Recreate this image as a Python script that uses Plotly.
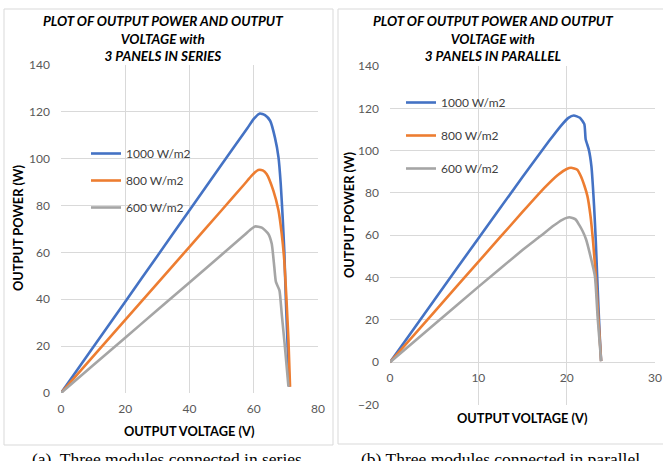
import plotly.graph_objects as go

W, H = 663, 461

# ---------------- data ----------------
series_names = ["1000 W/m2", "800 W/m2", "600 W/m2"]
colors = ["#4472C4", "#ED7D31", "#A5A5A5"]

# (a) three panels in series
ser_v_1000 = [0, 10, 20, 30, 40, 50, 58, 60, 61.9, 63.5, 65.1, 66.6, 67.7, 68.4, 69.0, 69.5, 70.0, 70.6, 71.1]
ser_p_1000 = [0, 19.5, 39, 58.5, 78, 97.5, 113, 117, 119.3, 118.6, 116.2, 109, 100.6, 89.2, 75, 60.9, 39.6, 18.3, 2.7]
ser_v_800 = [0, 10, 20, 30, 40, 50, 57, 59.5, 61.4, 62.8, 64.0, 66.1, 67.7, 68.7, 69.5, 70.2, 70.8, 71.3]
ser_p_800 = [0, 15.6, 31.2, 46.8, 62.4, 78, 89, 93, 95.2, 95.0, 93.5, 86.4, 77.9, 68, 56.6, 39.6, 22.6, 2.7]
ser_v_600 = [0, 10, 20, 30, 40, 50, 57, 59, 60.4, 62.5, 64.5, 65.6, 66.4, 66.9, 68.0, 68.7, 69.7, 70.8]
ser_p_600 = [0, 11.8, 23.6, 35.4, 47.2, 59, 67.3, 69.8, 71.1, 70.6, 68, 63.7, 53.7, 47.4, 43.8, 33.9, 19.7, 2.7]

# (b) three panels in parallel
par_v_1000 = [0, 5, 10, 15, 18, 19.3, 20.2, 20.8, 21.5, 22.0, 22.15, 22.5, 22.8, 23.1, 23.3, 23.45, 23.6, 23.75, 23.9]
par_p_1000 = [0, 29.3, 58.5, 87.5, 104.5, 111.5, 115.5, 116.6, 115.5, 112.5, 105.4, 100.6, 92.7, 74, 57, 41, 26, 12, 0.5]
par_v_800 = [0, 5, 10, 15, 17.5, 19, 20, 20.5, 21.2, 21.6, 22.0, 22.35, 22.7, 23.0, 23.3, 23.5, 23.7, 23.9]
par_p_800 = [0, 23.7, 47.4, 71, 82.5, 88.5, 91.3, 91.9, 91, 88, 83.5, 78.5, 69, 56.4, 40.6, 27, 13.7, 0.5]
par_v_600 = [0, 5, 10, 15, 17, 18.5, 19.5, 20.3, 21.0, 21.4, 21.8, 22.2, 22.7, 23.2, 23.5, 23.7, 23.9]
par_p_600 = [0, 17.8, 35.6, 53, 59.5, 64.5, 67.3, 68.5, 67.5, 65, 62, 58, 50, 40.6, 21.6, 11, 0.5]

ser_x_ticks = [0, 20, 40, 60, 80]
par_x_ticks = [0, 10, 20, 30]
ser_y_ticks = [0, 20, 40, 60, 80, 100, 120, 140]
par_y_ticks = [-20, 0, 20, 40, 60, 80, 100, 120, 140]

title_a = "PLOT OF OUTPUT POWER AND OUTPUT<br>VOLTAGE with<br>3 PANELS IN SERIES"
title_b = "PLOT OF OUTPUT POWER AND OUTPUT<br>VOLTAGE with<br>3 PANELS IN PARALLEL"
xlabel = "OUTPUT VOLTAGE (V)"
ylabel = "OUTPUT POWER (W)"
caption_a = "(a)  Three modules connected in series"
caption_b = "(b) Three modules connected in parallel"

# ---------------- helpers ----------------
def px(x):
    return x / W

def py(y):
    return (H - y) / H

FONT = "Lato, 'Open Sans', sans-serif"
GRID = "#D9D9D9"
TICKC = "#595959"

fig = go.Figure()

ser = [(ser_v_1000, ser_p_1000), (ser_v_800, ser_p_800), (ser_v_600, ser_p_600)]
par = [(par_v_1000, par_p_1000), (par_v_800, par_p_800), (par_v_600, par_p_600)]

for i, (v, p) in enumerate(ser):
    fig.add_trace(go.Scatter(x=v, y=p, mode="lines", name=series_names[i],
                             line=dict(color=colors[i], width=2.6, shape="spline", smoothing=0.5),
                             xaxis="x", yaxis="y", legend="legend",
                             legendgroup="a%d" % i))
for i, (v, p) in enumerate(par):
    fig.add_trace(go.Scatter(x=v, y=p, mode="lines", name=series_names[i],
                             line=dict(color=colors[i], width=2.6, shape="spline", smoothing=0.5),
                             xaxis="x2", yaxis="y2", legend="legend2",
                             legendgroup="b%d" % i))

axis_common = dict(showgrid=True, gridcolor=GRID, gridwidth=1, zeroline=False,
                   showline=False, ticks="", tickfont=dict(family=FONT, size=12, color=TICKC),
                   fixedrange=True, automargin=False)

fig.update_layout(
    width=W, height=H,
    margin=dict(l=0, r=0, t=0, b=0, pad=0, autoexpand=False),
    paper_bgcolor="white", plot_bgcolor="white",
    font=dict(family=FONT, color="#000000"),
    xaxis=dict(axis_common, domain=[px(61), px(318)], range=[0, 80], tickvals=ser_x_ticks,
               anchor="y", ticklabelstandoff=7),
    yaxis=dict(axis_common, domain=[py(393), py(65)], range=[0, 140], tickvals=ser_y_ticks,
               anchor="x", ticklabelstandoff=10),
    xaxis2=dict(axis_common, domain=[px(390), px(655)], range=[0, 30], tickvals=par_x_ticks,
                anchor="free", position=py(362.2), ticklabelstandoff=7),
    yaxis2=dict(axis_common, domain=[py(404.5), py(66)], range=[-20, 140], tickvals=par_y_ticks,
                anchor="x2", ticklabelstandoff=10),
    legend=dict(x=px(86), y=py(139), xanchor="left", yanchor="top",
                bgcolor="rgba(0,0,0,0)", borderwidth=0, tracegroupgap=8,
                font=dict(family=FONT, size=12, color="#404040")),
    legend2=dict(x=px(401), y=py(88), xanchor="left", yanchor="top",
                 bgcolor="rgba(0,0,0,0)", borderwidth=0, tracegroupgap=14,
                 font=dict(family=FONT, size=12, color="#404040")),
    showlegend=True,
)

# chart frames
fig.add_shape(type="rect", xref="paper", yref="paper", x0=px(4), x1=px(333), y0=py(445), y1=py(9),
              line=dict(color=GRID, width=1), fillcolor="rgba(0,0,0,0)", layer="below")
fig.add_shape(type="rect", xref="paper", yref="paper", x0=px(338), x1=px(668), y0=py(444), y1=py(9),
              line=dict(color=GRID, width=1), fillcolor="rgba(0,0,0,0)", layer="below")

ann = []
ann.append(dict(text="<b><i>%s</i></b>" % title_a, x=px(163), y=py(11), xanchor="center", yanchor="top",
                font=dict(family=FONT, size=13.5, color="#000000")))
ann.append(dict(text="<b><i>%s</i></b>" % title_b, x=px(493), y=py(11), xanchor="center", yanchor="top",
                font=dict(family=FONT, size=13.5, color="#000000")))
ann.append(dict(text="<b>%s</b>" % xlabel, x=px(189), y=py(431), xanchor="center", yanchor="middle",
                font=dict(family=FONT, size=12.8, color="#000000")))
ann.append(dict(text="<b>%s</b>" % xlabel, x=px(522), y=py(418), xanchor="center", yanchor="middle",
                font=dict(family=FONT, size=12.8, color="#000000")))
ann.append(dict(text="<b>%s</b>" % ylabel, x=px(18), y=py(228), xanchor="center", yanchor="middle",
                textangle=-90, font=dict(family=FONT, size=12.8, color="#000000")))
ann.append(dict(text="<b>%s</b>" % ylabel, x=px(349), y=py(215), xanchor="center", yanchor="middle",
                textangle=-90, font=dict(family=FONT, size=12.8, color="#000000")))
ann.append(dict(text=caption_a, x=px(167), y=py(447), xanchor="center", yanchor="top",
                font=dict(family="'Liberation Serif', 'DejaVu Serif', serif", size=17.5, color="#000000")))
ann.append(dict(text=caption_b, x=px(500), y=py(447), xanchor="center", yanchor="top",
                font=dict(family="'Liberation Serif', 'DejaVu Serif', serif", size=17.5, color="#000000")))
for a in ann:
    a.update(xref="paper", yref="paper", showarrow=False)
fig.update_layout(annotations=ann)

fig.write_html("out.html", config={"displayModeBar": False},
               post_script="document.body.style.margin='0';document.body.style.overflow='hidden';")
